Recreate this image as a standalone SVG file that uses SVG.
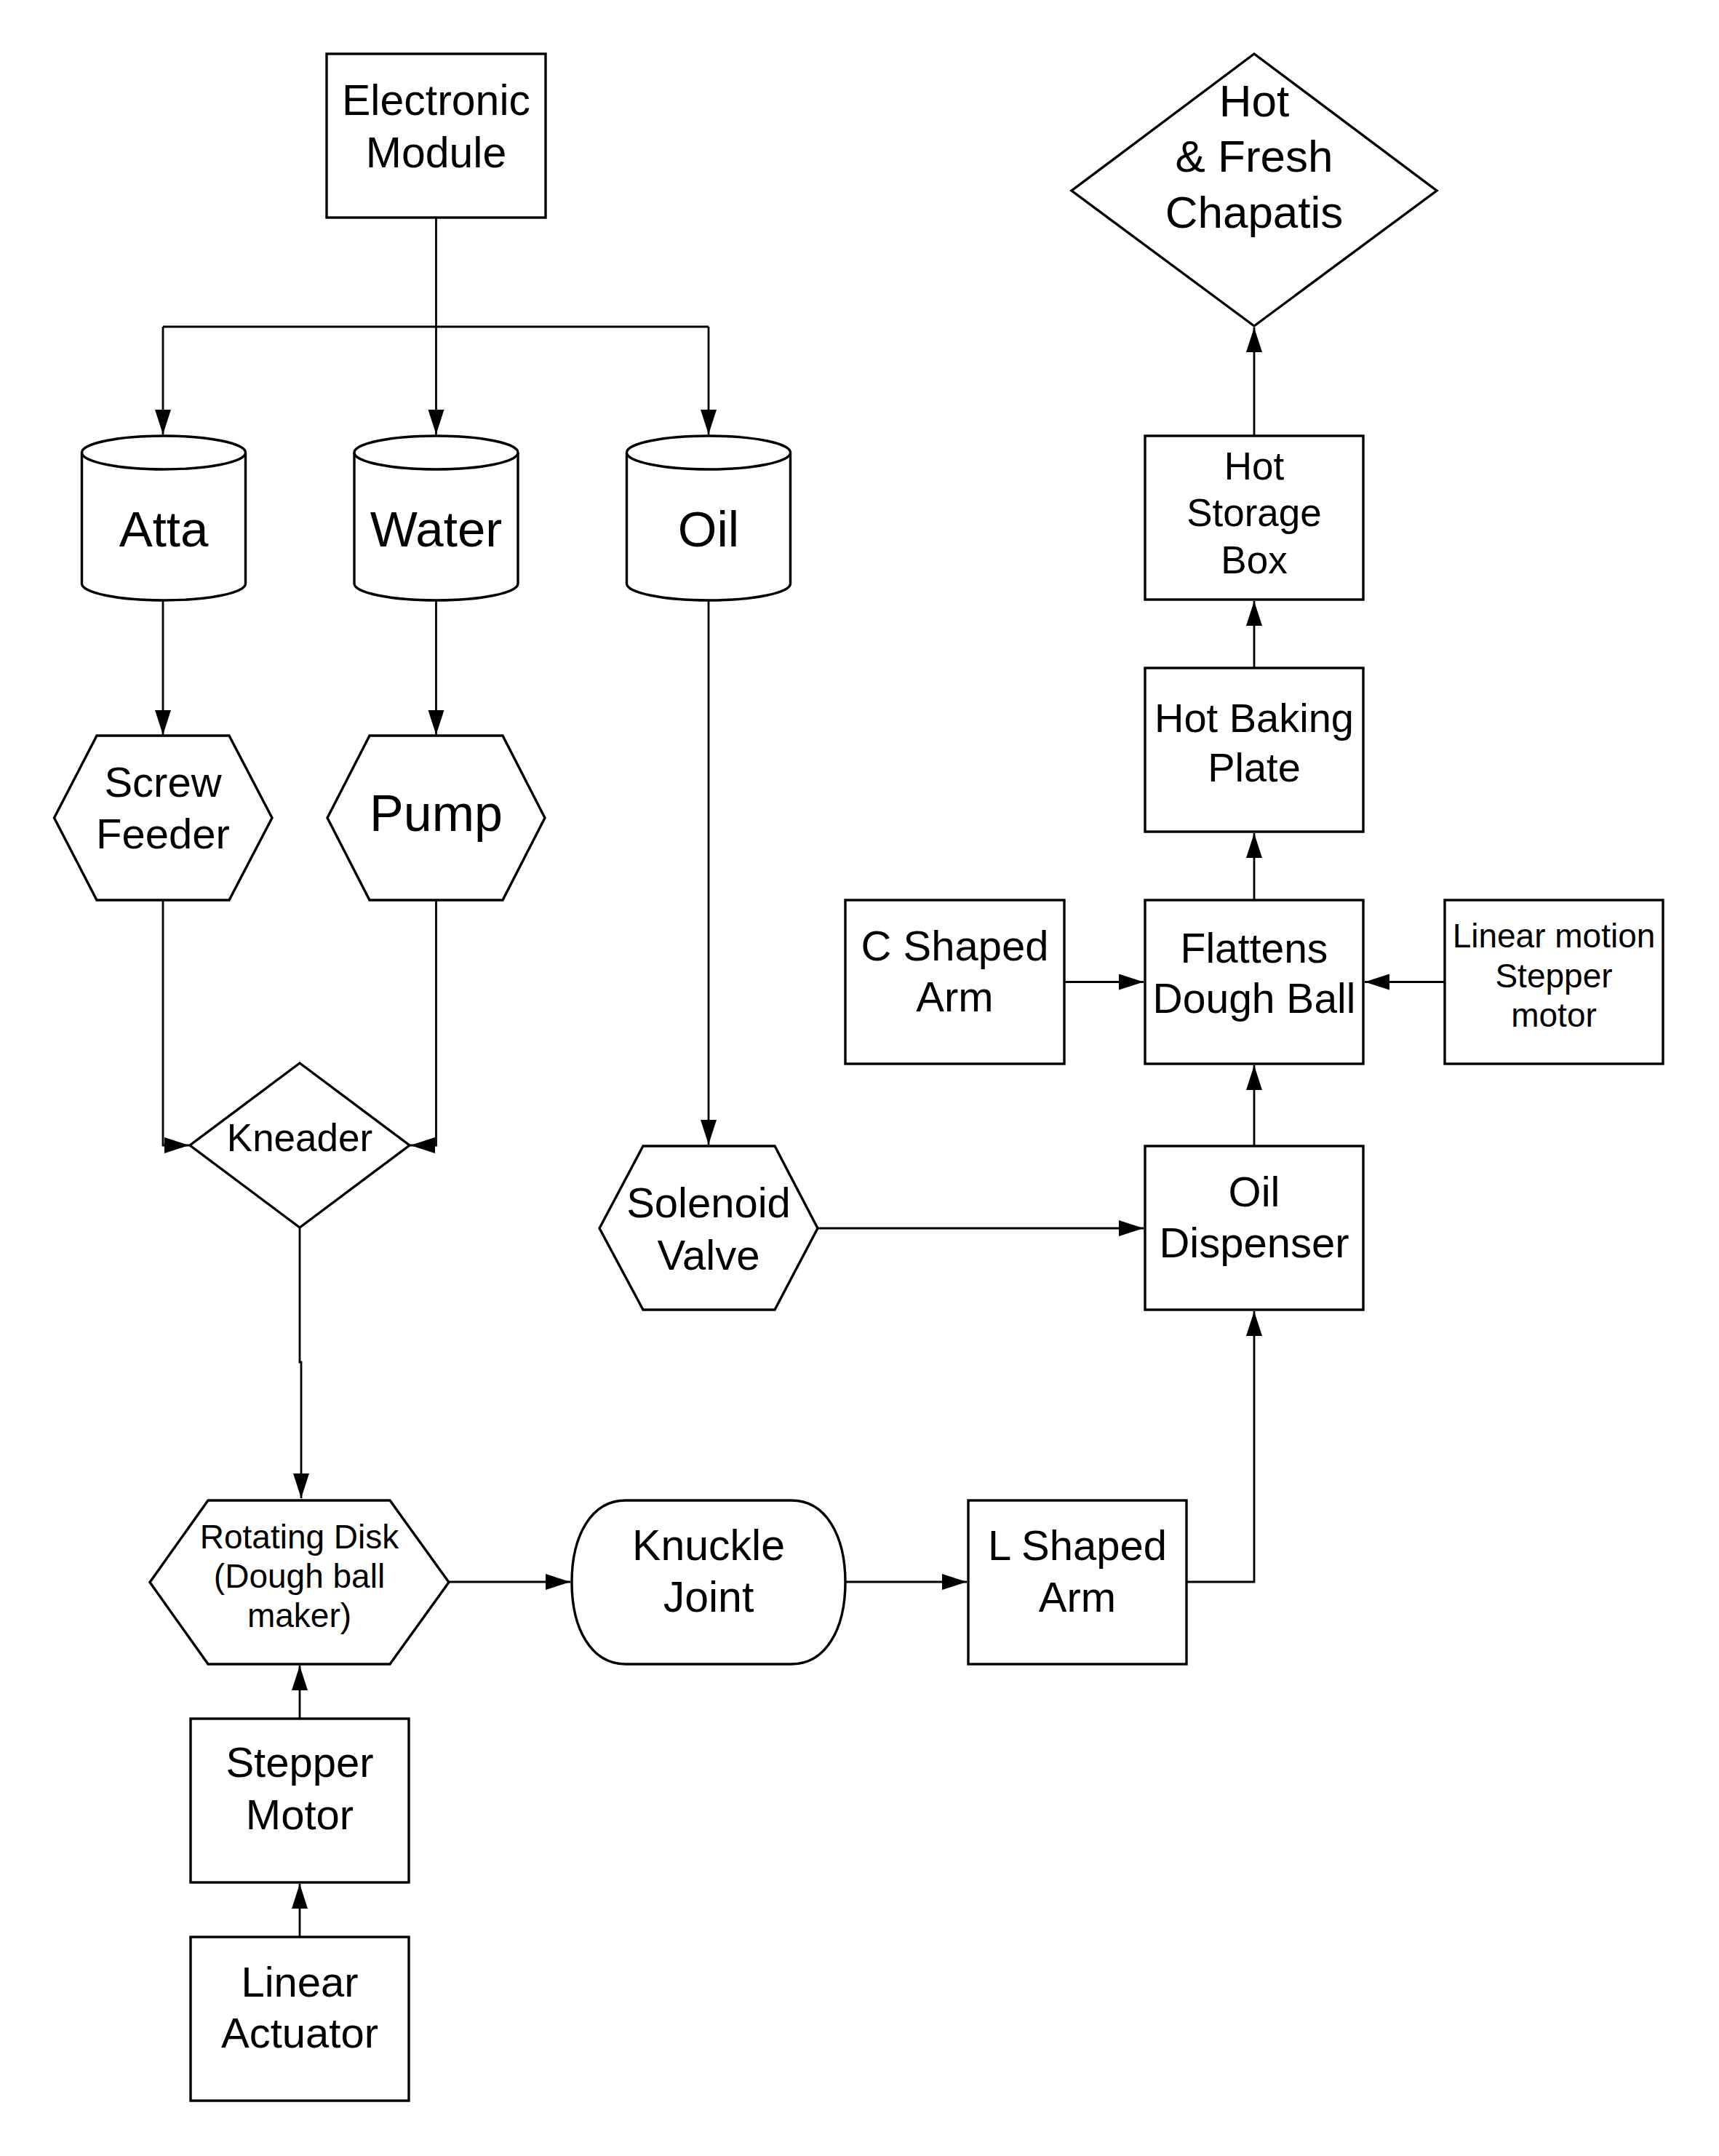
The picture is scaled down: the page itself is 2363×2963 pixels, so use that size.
<svg xmlns="http://www.w3.org/2000/svg" width="2363" height="2963" viewBox="0 0 2363 2963">
  <style>
    .node { fill: #ffffff; stroke: #000000; stroke-width: 3.4; stroke-linejoin: miter; }
    .edge { fill: none; stroke: #000000; stroke-width: 2.8; }
    text { font-family: "Liberation Sans", Arial, sans-serif; fill: #000000; text-anchor: middle; }
    .f46 { font-size: 46px; }
    .f53 { font-size: 53px; }
    .f56 { font-size: 56px; }
    .f57 { font-size: 57px; }
    .f58 { font-size: 58px; }
    .f59 { font-size: 59px; }
    .f62 { font-size: 62px; }
    .f69 { font-size: 69px; }
    .f70 { font-size: 70px; }
  </style>
  <defs>
    <marker id="arrow" markerUnits="userSpaceOnUse" markerWidth="36" markerHeight="24" refX="34" refY="11" orient="auto">
      <path d="M0,0 L34,11 L0,22 Z" fill="#000000"/>
    </marker>
  </defs>
  <rect x="0" y="0" width="2363" height="2963" fill="#ffffff"/>

  <!-- connectors -->
  <g id="connectors">
    <path class="edge" d="M599.5,299 V449"/>
    <path class="edge" d="M224,449 H974"/>
    <path class="edge" d="M224,449 V597" marker-end="url(#arrow)"/>
    <path class="edge" d="M599.5,449 V597" marker-end="url(#arrow)"/>
    <path class="edge" d="M974,449 V597" marker-end="url(#arrow)"/>
    <path class="edge" d="M224,825 V1010" marker-end="url(#arrow)"/>
    <path class="edge" d="M599.5,825 V1010" marker-end="url(#arrow)"/>
    <path class="edge" d="M974,825 V1573" marker-end="url(#arrow)"/>
    <path class="edge" d="M224,1237 V1574 H260" marker-end="url(#arrow)"/>
    <path class="edge" d="M599.5,1237 V1574 H564" marker-end="url(#arrow)"/>
    <path class="edge" d="M412,1687 V1872 H414 V2059" marker-end="url(#arrow)"/>
    <path class="edge" d="M617,2174 H784" marker-end="url(#arrow)"/>
    <path class="edge" d="M1162,2174 H1329" marker-end="url(#arrow)"/>
    <path class="edge" d="M1631,2174 H1724 V1802" marker-end="url(#arrow)"/>
    <path class="edge" d="M1124,1688 H1572" marker-end="url(#arrow)"/>
    <path class="edge" d="M1724,1575 V1464" marker-end="url(#arrow)"/>
    <path class="edge" d="M1463,1349.5 H1572" marker-end="url(#arrow)"/>
    <path class="edge" d="M1986,1349.5 H1876" marker-end="url(#arrow)"/>
    <path class="edge" d="M1724,1237 V1145" marker-end="url(#arrow)"/>
    <path class="edge" d="M1724,918 V826" marker-end="url(#arrow)"/>
    <path class="edge" d="M1724,599 V450" marker-end="url(#arrow)"/>
    <path class="edge" d="M412,2362 V2289" marker-end="url(#arrow)"/>
    <path class="edge" d="M412,2662 V2589" marker-end="url(#arrow)"/>
  </g>

  <!-- control electronics -->
  <g id="electronic-module">
    <rect class="node" x="449" y="74" width="301" height="225"/>
    <text class="f59" x="599.5" y="158">Electronic</text>
    <text class="f59" x="599.5" y="230">Module</text>
  </g>

  <!-- ingredient tanks -->
  <g id="atta">
    <path class="node" d="M112.5,622 A112.5,23 0 0 1 337.5,622 V802 A112.5,23 0 0 1 112.5,802 Z"/>
    <path class="node" d="M112.5,622 A112.5,23 0 0 0 337.5,622" fill="none"/>
    <text class="f69" x="225" y="751">Atta</text>
  </g>
  <g id="water">
    <path class="node" d="M487,622 A112.5,23 0 0 1 712,622 V802 A112.5,23 0 0 1 487,802 Z"/>
    <path class="node" d="M487,622 A112.5,23 0 0 0 712,622" fill="none"/>
    <text class="f69" x="599.5" y="751">Water</text>
  </g>
  <g id="oil">
    <path class="node" d="M861.5,622 A112.5,23 0 0 1 1086.5,622 V802 A112.5,23 0 0 1 861.5,802 Z"/>
    <path class="node" d="M861.5,622 A112.5,23 0 0 0 1086.5,622" fill="none"/>
    <text class="f69" x="974" y="751">Oil</text>
  </g>

  <!-- feeders -->
  <g id="screw-feeder">
    <polygon class="node" points="74.5,1124 133,1011 315,1011 374,1124 315,1237 133,1237"/>
    <text class="f58" x="224" y="1095">Screw</text>
    <text class="f58" x="224" y="1166">Feeder</text>
  </g>
  <g id="pump">
    <polygon class="node" points="450,1124 508,1011 691,1011 749,1124 691,1237 508,1237"/>
    <text class="f70" x="599.5" y="1142">Pump</text>
  </g>

  <g id="kneader">
    <polygon class="node" points="412,1461 563,1574 412,1687 261,1574"/>
    <text class="f53" x="412" y="1582">Kneader</text>
  </g>

  <g id="solenoid-valve">
    <polygon class="node" points="824,1688 884,1575 1065,1575 1124,1688 1065,1800 884,1800"/>
    <text class="f58" x="974" y="1673">Solenoid</text>
    <text class="f58" x="974" y="1745">Valve</text>
  </g>

  <!-- dough ball line -->
  <g id="rotating-disk">
    <polygon class="node" points="206,2174.5 286,2062 536,2062 617,2174.5 536,2287 286,2287"/>
    <text class="f46" x="411.5" y="2128">Rotating Disk</text>
    <text class="f46" x="411.5" y="2182">(Dough ball</text>
    <text class="f46" x="411.5" y="2236">maker)</text>
  </g>
  <g id="stepper-motor">
    <rect class="node" x="262" y="2362" width="300" height="225"/>
    <text class="f58" x="412" y="2442">Stepper</text>
    <text class="f58" x="412" y="2514">Motor</text>
  </g>
  <g id="linear-actuator">
    <rect class="node" x="262" y="2662" width="300" height="225"/>
    <text class="f58" x="412" y="2744">Linear</text>
    <text class="f58" x="412" y="2814">Actuator</text>
  </g>
  <g id="knuckle-joint">
    <path class="node" d="M860,2062 H1088 C1135,2062 1162,2110 1162,2174.5 C1162,2239 1135,2287 1088,2287 H860 C813,2287 786,2239 786,2174.5 C786,2110 813,2062 860,2062 Z"/>
    <text class="f59" x="974" y="2144">Knuckle</text>
    <text class="f59" x="974" y="2215">Joint</text>
  </g>
  <g id="l-shaped-arm">
    <rect class="node" x="1331" y="2062" width="300" height="225"/>
    <text class="f58" x="1481" y="2144">L Shaped</text>
    <text class="f58" x="1481" y="2215">Arm</text>
  </g>

  <!-- flattening and baking column -->
  <g id="oil-dispenser">
    <rect class="node" x="1574" y="1575" width="300" height="225"/>
    <text class="f58" x="1724" y="1658">Oil</text>
    <text class="f58" x="1724" y="1728">Dispenser</text>
  </g>
  <g id="c-shaped-arm">
    <rect class="node" x="1162" y="1237" width="301" height="225"/>
    <text class="f58" x="1312.5" y="1320">C Shaped</text>
    <text class="f58" x="1312.5" y="1390">Arm</text>
  </g>
  <g id="flattens-dough-ball">
    <rect class="node" x="1574" y="1237" width="300" height="225"/>
    <text class="f57" x="1724" y="1323">Flattens</text>
    <text class="f57" x="1724" y="1392">Dough Ball</text>
  </g>
  <g id="linear-motion-stepper">
    <rect class="node" x="1986" y="1237" width="300" height="225"/>
    <text class="f46" x="2136" y="1302">Linear motion</text>
    <text class="f46" x="2136" y="1357">Stepper</text>
    <text class="f46" x="2136" y="1411">motor</text>
  </g>
  <g id="hot-baking-plate">
    <rect class="node" x="1574" y="918" width="300" height="225"/>
    <text class="f56" x="1724" y="1006">Hot Baking</text>
    <text class="f56" x="1724" y="1074">Plate</text>
  </g>
  <g id="hot-storage-box">
    <rect class="node" x="1574" y="599" width="300" height="225"/>
    <text class="f53" x="1724" y="659">Hot</text>
    <text class="f53" x="1724" y="723">Storage</text>
    <text class="f53" x="1724" y="788">Box</text>
  </g>
  <g id="hot-fresh-chapatis">
    <polygon class="node" points="1724,74 1975,262 1724,448 1473,262"/>
    <text class="f62" x="1724" y="160">Hot</text>
    <text class="f62" x="1724" y="236">&amp; Fresh</text>
    <text class="f62" x="1724" y="313">Chapatis</text>
  </g>
</svg>
